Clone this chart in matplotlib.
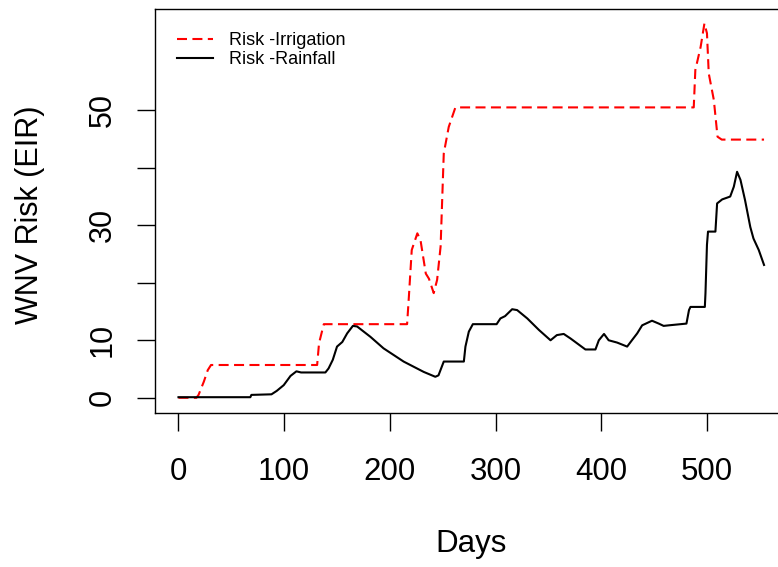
import matplotlib
matplotlib.use("Agg")
import matplotlib.pyplot as plt

# irrigation-driven risk (EIR) by day
irr_days = [0, 17, 19, 24, 27.7, 30.8, 131.2, 133, 137.5, 216.3, 218, 220.7, 226, 229,
            234, 237, 241.5, 244.7, 248, 249.5, 251, 255.7, 262, 487.5, 489, 494, 497.6,
            500, 501.7, 506.5, 510, 514, 554]
irr_risk = [0, 0, 0.5, 2.8, 4.8, 5.7, 5.7, 9.5, 12.8, 12.8, 17.6, 25.7, 28.6, 27.4,
            21.6, 20.7, 18.2, 20.5, 26.3, 34.4, 42.5, 47.1, 50.5, 50.5, 57, 61, 65.1,
            63.4, 56.4, 51.8, 45.4, 44.9, 44.9]

# rainfall-driven risk (EIR) by day
rain_days = [0, 68, 69, 88, 93, 99.6, 106, 111.6, 116, 139, 142, 146, 150, 155, 159.6,
             165, 169, 181.6, 194, 213, 232, 243, 246, 251, 270, 271.5, 274.7, 278.5,
             301, 304.6, 309, 315.7, 320.4, 330, 341, 352, 358, 364.5, 371, 385, 394.5,
             397.7, 402.6, 407, 415, 424.5, 429, 434, 438.7, 448, 454.4, 459, 464, 480.6,
             483, 484.4, 498, 498.6, 500, 501, 508, 509.6, 514.4, 519, 522, 525.4, 528.5,
             531.7, 536, 541, 544, 549, 554]
rain_risk = [0.1, 0.1, 0.5, 0.6, 1.2, 2.2, 3.8, 4.6, 4.4, 4.4, 5.1, 6.6, 8.9, 9.7, 11.2,
             12.5, 12.4, 10.6, 8.6, 6.3, 4.5, 3.65, 3.9, 6.3, 6.3, 8.9, 11.5, 12.8,
             12.8, 13.8, 14.2, 15.4, 15.25, 13.8, 11.8, 10.0, 10.9, 11.1, 10.3, 8.4, 8.4,
             10.0, 11.1, 10.0, 9.6, 8.9, 10.0, 11.2, 12.6, 13.4, 12.9, 12.5, 12.6, 12.9,
             15.25, 15.8, 15.8, 18.2, 26.6, 28.9, 28.9, 33.8, 34.5, 34.8, 35.0, 36.7, 39.3,
             37.9, 34.4, 29.7, 27.7, 25.7, 23.1]

xticks = [0, 100, 200, 300, 400, 500]
yticks = [0, 10, 20, 30, 40, 50]
ytick_labels = ["0", "10", "", "30", "", "50"]

plt.rcParams['font.family'] = ['Liberation Sans', 'DejaVu Sans']

fig = plt.figure(figsize=(7.78, 5.67), dpi=100)
ax = fig.add_axes([155 / 778, 0.2721, 632.5 / 778, 0.7129])

ax.plot(irr_days, irr_risk, color='#ff0000', lw=1.5, dashes=(4.8, 2.6), label='Risk -Irrigation')
ax.plot(rain_days, rain_risk, color='black', lw=1.5, label='Risk -Rainfall')

ax.set_xlim(-22.2, 576.2)
ax.set_ylim(-2.6, 67.7)

for s in ax.spines.values():
    s.set_linewidth(1.0)

ax.set_xticks(xticks)
ax.set_xticklabels([str(t) for t in xticks], fontsize=22.5)
ax.set_yticks(yticks)
ax.set_yticklabels(ytick_labels, fontsize=22, rotation=90, va='center')
ax.tick_params(axis='both', direction='out', length=12.7, width=1.0)
ax.tick_params(axis='x', pad=19)
ax.tick_params(axis='y', pad=14)

ax.set_xlabel('Days', fontsize=22.5, va='center')
ax.xaxis.set_label_coords(0.5, -0.326)
ax.set_ylabel('WNV Risk (EIR)', fontsize=22, va='center')
ax.yaxis.set_label_coords(-0.1976, 0.49)

ax.legend(loc='upper left', bbox_to_anchor=(0.0348, 0.942), frameon=False,
          fontsize=13, handlelength=2.0, handletextpad=0.9, labelspacing=0.12,
          borderpad=0, borderaxespad=0)

fig.savefig('out.png', dpi=100)
